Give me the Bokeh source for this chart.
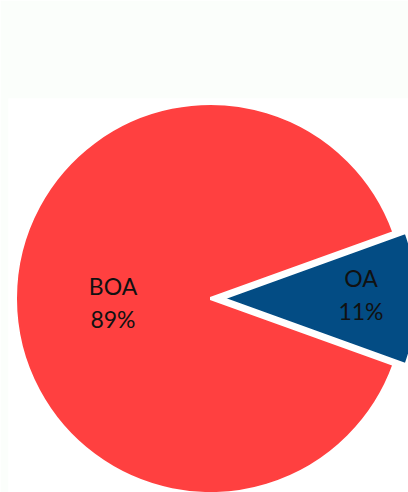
import math
from bokeh.plotting import figure
from bokeh.models import Range1d
from bokeh.core.properties import value
from bokeh.embed import file_html
from bokeh.resources import INLINE

categories = ["BOA", "OA"]
values = [89, 11]
colors = ["#FF4040", "#034C84"]
explode = [0, 12]
label_frac = [0.5, 0.71]

W_LEFT, W_FRAME, H_TOP, H_FRAME = 8, 400, 98, 394
p = figure(width=W_LEFT + W_FRAME, height=H_TOP + H_FRAME, output_backend="svg", toolbar_location=None,
           x_range=Range1d(0, W_FRAME), y_range=Range1d(0, H_FRAME),
           min_border_top=H_TOP, min_border_left=W_LEFT, min_border_right=0, min_border_bottom=0)
p.axis.visible = False
p.grid.visible = False
p.outline_line_color = None
p.border_fill_color = "#FBFEFB"
p.background_fill_color = "white"

cx, cy, R = 202, 194, 195
total = sum(values)
half_oa = math.pi * values[1] / total
starts = [half_oa, -half_oa]
ends = [2 * math.pi - half_oa, half_oa]
mids = [math.pi, 0.0]

for i, cat in enumerate(categories):
    ox = cx + explode[i] * math.cos(mids[i])
    oy = cy + explode[i] * math.sin(mids[i])
    p.wedge(x=[ox], y=[oy], radius=R, start_angle=[starts[i]], end_angle=[ends[i]],
            fill_color=colors[i], line_color="white", line_width=3)
    lx = ox + label_frac[i] * R * math.cos(mids[i])
    ly = oy + label_frac[i] * R * math.sin(mids[i])
    pct = round(100 * values[i] / total)
    p.text(x=[lx], y=[ly - (4 if i == 0 else -4)], text=[f"{cat}\n{pct}%"],
           text_align="center", text_baseline="middle",
           text_font=value("Lato"), text_font_size="23px", text_color="#111111",
           text_line_height=1.15)

html = file_html(p, INLINE)
html = html.replace("<body>", '<body style="background:#FBFEFB">', 1)
open("out.html", "w").write(html)
